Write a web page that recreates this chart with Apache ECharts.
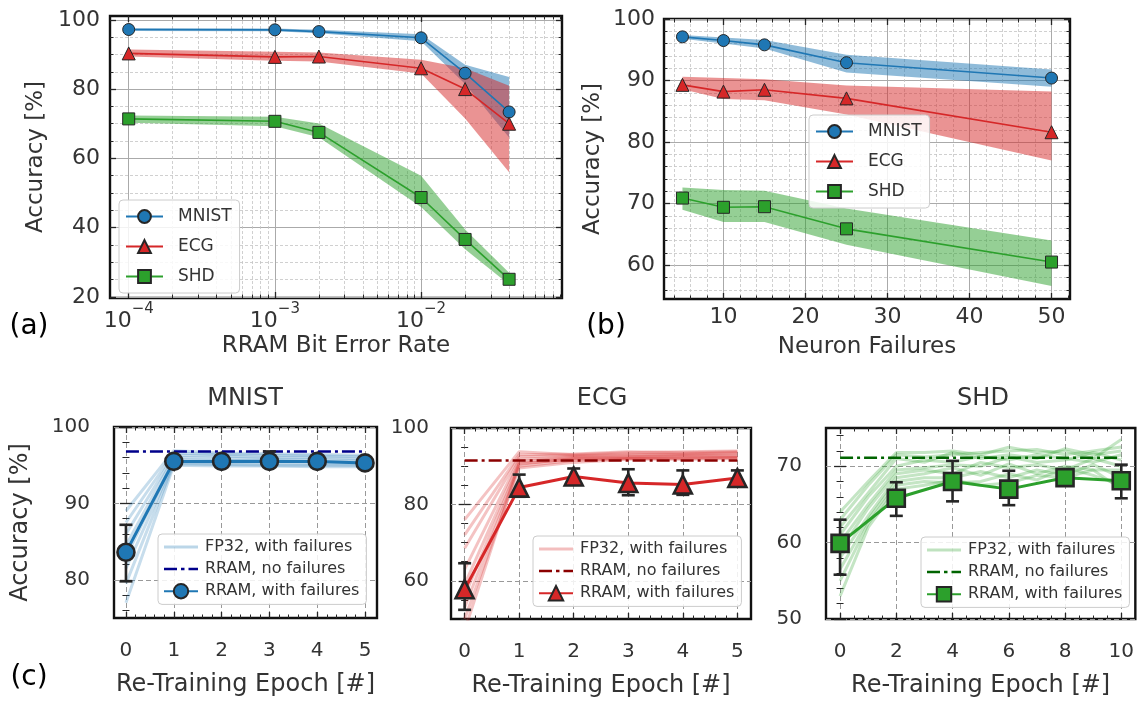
<!DOCTYPE html>
<html><head><meta charset="utf-8">
<script src="https://cdn.jsdelivr.net/npm/echarts@6/dist/echarts.min.js"></script>
<style>html,body{margin:0;padding:0;background:#fff}#c{width:1137px;height:702px}</style>
</head><body><div id="c"></div>
<script>
// ---------- DATA ----------
// (a) RRAM bit error rate
const berX = [1e-4, 1e-3, 2e-3, 1e-2, 2e-2, 4e-2];
const aMnist   = [97.2, 97.1, 96.6, 94.8, 84.6, 73.4];
const aMnistLo = [96.8, 96.7, 96.1, 93.8, 81.5, 66.0];
const aMnistHi = [97.6, 97.5, 97.1, 95.8, 87.0, 83.5];
const aEcg   = [90.3, 89.3, 89.4, 86.0, 80.0, 70.0];
const aEcgLo = [89.4, 88.2, 88.0, 84.5, 71.5, 56.0];
const aEcgHi = [91.4, 90.8, 90.6, 88.5, 86.0, 81.0];
const aShd   = [71.4, 70.7, 67.5, 48.7, 36.6, 25.1];
const aShdLo = [70.3, 69.3, 66.1, 46.0, 33.8, 23.6];
const aShdHi = [72.4, 72.0, 70.1, 55.0, 39.5, 27.0];
// (b) neuron failures
const nfX = [5, 10, 15, 25, 50];
const bMnist   = [97.1, 96.5, 95.8, 92.9, 90.4];
const bMnistLo = [96.8, 96.0, 95.2, 91.3, 89.0];
const bMnistHi = [97.4, 97.0, 96.6, 94.2, 91.8];
const bEcg   = [89.3, 88.2, 88.5, 87.1, 81.6];
const bEcgLo = [88.6, 87.0, 86.8, 84.5, 77.0];
const bEcgHi = [90.6, 90.4, 90.2, 89.2, 88.2];
const bShd   = [70.9, 69.4, 69.5, 65.9, 60.5];
const bShdLo = [69.0, 67.0, 67.0, 63.3, 56.6];
const bShdHi = [72.6, 72.2, 72.1, 69.2, 64.0];
// (c) re-training
const epochs5  = [0, 1, 2, 3, 4, 5];
const epochs10 = [0, 2, 4, 6, 8, 10];
const epochsAll10 = [0, 1, 2, 3, 4, 5, 6, 7, 8, 9, 10];
const cMnist   = [83.6, 95.5, 95.5, 95.5, 95.5, 95.3];
const cMnistLo = [79.8, 95.1, 95.1, 94.9, 94.9, 94.8];
const cMnistHi = [87.2, 95.9, 95.9, 96.8, 96.0, 95.8];
const mnistNoFail = 96.8;
const mnistFp32 = [
  [89.0, 96.9, 96.6, 96.5, 96.4, 96.3],
  [87.5, 96.6, 96.4, 96.3, 96.2, 96.1],
  [86.0, 96.3, 96.2, 96.0, 96.0, 95.8],
  [84.5, 96.0, 95.9, 95.8, 95.7, 95.6],
  [83.0, 95.7, 95.6, 95.6, 95.5, 95.4],
  [81.5, 95.4, 95.3, 95.3, 95.2, 95.2],
  [79.5, 95.2, 95.1, 95.0, 95.0, 95.0],
  [77.0, 95.0, 94.9, 94.9, 94.8, 94.8]
];
const cEcg   = [57.8, 84.4, 87.3, 85.6, 85.2, 86.9];
const cEcgLo = [52.4, 82.0, 85.5, 82.4, 82.5, 85.0];
const cEcgHi = [64.6, 87.8, 89.4, 89.2, 88.9, 88.9];
const ecgNoFail = 91.5;
const ecgFp32 = [
  [76.0, 93.8, 93.0, 93.5, 93.8, 94.0],
  [72.0, 93.0, 93.2, 93.8, 93.5, 93.8],
  [68.5, 92.5, 92.8, 93.0, 93.2, 93.5],
  [63.0, 91.8, 92.5, 92.8, 93.0, 93.2],
  [59.0, 91.2, 92.3, 92.5, 92.8, 92.8],
  [56.0, 90.5, 92.0, 92.2, 92.5, 92.5],
  [53.0, 90.0, 91.5, 92.0, 92.2, 92.3],
  [50.0, 89.5, 91.0, 91.8, 91.8, 92.0],
  [47.0, 90.8, 91.8, 92.0, 92.0, 92.2]
];
const cShd   = [59.9, 65.8, 68.0, 67.0, 68.5, 68.1];
const cShdLo = [55.8, 63.5, 65.4, 64.9, 67.6, 65.8];
const cShdHi = [63.0, 67.9, 70.7, 69.4, 69.6, 70.2];
const shdNoFail = 71.1;
const shdFp32 = [
  [64.0, 68.0, 71.8, 71.8, 72.0, 71.5, 72.5, 71.8, 72.0, 71.0, 73.5],
  [63.0, 67.5, 71.5, 71.2, 71.5, 71.8, 72.0, 72.2, 71.5, 72.0, 72.5],
  [62.0, 66.5, 71.0, 70.5, 71.8, 71.0, 71.5, 71.0, 72.3, 71.5, 72.0],
  [61.0, 66.0, 70.0, 70.8, 70.5, 71.3, 70.8, 71.5, 71.0, 70.5, 71.5],
  [60.0, 65.0, 69.5, 69.8, 70.2, 70.0, 71.2, 70.5, 70.8, 71.8, 70.8],
  [59.0, 64.5, 69.0, 69.5, 69.0, 70.5, 69.8, 70.2, 69.5, 71.0, 70.0],
  [58.0, 63.5, 68.5, 69.0, 69.8, 68.8, 70.3, 69.0, 70.0, 69.5, 69.5],
  [56.5, 63.0, 68.0, 68.5, 68.5, 69.3, 68.5, 69.5, 68.8, 70.2, 68.5],
  [55.0, 62.5, 67.5, 68.0, 67.8, 68.0, 69.0, 68.2, 69.8, 68.8, 67.5],
  [53.0, 62.0, 67.0, 67.5, 68.2, 67.5, 67.8, 68.8, 68.5, 69.5, 67.0]
];
// tick values
const aXMajor = [1e-4, 1e-3, 1e-2];
const aXMinor = [2e-4,3e-4,4e-4,5e-4,6e-4,7e-4,8e-4,9e-4,2e-3,3e-3,4e-3,5e-3,6e-3,7e-3,8e-3,9e-3,2e-2,3e-2,4e-2,5e-2,6e-2,7e-2,8e-2,9e-2];
const aYMajor = [20, 40, 60, 80, 100];
const aYMinor = [25,30,35,45,50,55,65,70,75,85,90,95];
const bXMajor = [10, 20, 30, 40, 50];
const bXMinor = [4,6,8,12,14,16,18,22,24,26,28,32,34,36,38,42,44,46,48,52];
const bYMajor = [60, 70, 80, 90, 100];
const bYMinor = [56,58,62,64,66,68,72,74,76,78,82,84,86,88,92,94,96,98];
const c5XMajor = [0, 1, 2, 3, 4, 5];
const c5XMinor = [0.2,0.4,0.6,0.8,1.2,1.4,1.6,1.8,2.2,2.4,2.6,2.8,3.2,3.4,3.6,3.8,4.2,4.4,4.6,4.8];
const c10XMajor = [0, 2, 4, 6, 8, 10];
const c10XMinor = [0.5,1,1.5,2.5,3,3.5,4.5,5,5.5,6.5,7,7.5,8.5,9,9.5];
const cMYMajor = [80, 90, 100];
const cMYMinor = [76,78,82,84,86,88,92,94,96,98];
const cEYMajor = [60, 80, 100];
const cEYMinor = [50,55,65,70,75,85,90,95];
const cSYMajor = [50, 60, 70];
const cSYMinor = [52,54,56,58,62,64,66,68,72,74];

// ---------- STYLE ----------
const FONT = 'DejaVu Sans';
const TXT = '#333333';
const EDGE = '#262626';
const BLUE = '#1f77b4', RED = '#d62728', GREEN = '#2ca02c';
const ICON_LINE = 'path://M0,0h34v3h-34z';
const ICON_DASHDOT = 'path://M0,0h13v2.6h-13zM17,0h3.5v2.6h-3.5zM24.5,0h9.5v2.6h-9.5z';

const grids = [], xAxes = [], yAxes = [], series = [], legends = [], graphics = [];

function addPanel(p) {
  const gi = grids.length;
  grids.push({left: p.box[0], top: p.box[1], width: p.box[2], height: p.box[3], show: true,
    borderColor: '#111', borderWidth: 2.4, backgroundColor: 'rgba(0,0,0,0)'});
  const xi = xAxes.length, yi = yAxes.length;
  const tMaj = () => ({show: true, inside: true, length: 6, lineStyle: {color: EDGE, width: 1.3}});
  const tMin = () => ({show: true, inside: true, length: 3.5, lineStyle: {color: EDGE, width: 1}});
  const xb = () => { const o = {gridIndex: gi, type: p.xType, min: p.xRange[0], max: p.xRange[1], axisLine: {show: false}}; if (p.xType === 'log') o.logBase = 10; return o; };
  const yb = () => ({gridIndex: gi, type: 'value', min: p.yRange[0], max: p.yRange[1], axisLine: {show: false}});
  xAxes.push(Object.assign(xb(), {position: 'bottom',
    axisTick: Object.assign(tMaj(), {customValues: p.xMajor}),
    axisLabel: {show: true, customValues: p.xMajor, margin: p.xMargin, fontSize: p.fs, color: TXT, fontFamily: FONT, formatter: p.xFmt, rich: p.xRich},
    splitLine: {show: true, lineStyle: p.majorGrid},
    name: p.xName, nameLocation: 'middle', nameGap: p.xNameGap,
    nameTextStyle: {fontSize: p.nameFs, color: TXT, fontFamily: FONT}}));
  xAxes.push(Object.assign(xb(), {position: 'bottom', axisTick: Object.assign(tMin(), {customValues: p.xMinor}), axisLabel: {show: false},
    splitLine: {show: !!p.minorGrid, lineStyle: p.minorGrid}}));
  xAxes.push(Object.assign(xb(), {position: 'top', axisTick: Object.assign(tMaj(), {customValues: p.xMajor}), axisLabel: {show: false}, splitLine: {show: false}}));
  xAxes.push(Object.assign(xb(), {position: 'top', axisTick: Object.assign(tMin(), {customValues: p.xMinor}), axisLabel: {show: false}, splitLine: {show: false}}));

  yAxes.push(Object.assign(yb(), {position: 'left',
    axisTick: Object.assign(tMaj(), {customValues: p.yMajor}),
    axisLabel: {show: true, customValues: p.yMajor, margin: p.yMargin, fontSize: p.fs, color: TXT, fontFamily: FONT},
    splitLine: {show: true, lineStyle: p.majorGrid},
    name: p.yName || '', nameLocation: 'middle', nameGap: p.yNameGap,
    nameTextStyle: {fontSize: p.nameFs, color: TXT, fontFamily: FONT}}));
  yAxes.push(Object.assign(yb(), {position: 'left', axisTick: Object.assign(tMin(), {customValues: p.yMinor}), axisLabel: {show: false},
    splitLine: {show: !!p.minorGrid, lineStyle: p.minorGrid}}));
  yAxes.push(Object.assign(yb(), {position: 'right', axisTick: Object.assign(tMaj(), {customValues: p.yMajor}), axisLabel: {show: false}, splitLine: {show: false}}));
  yAxes.push(Object.assign(yb(), {position: 'right', axisTick: Object.assign(tMin(), {customValues: p.yMinor}), axisLabel: {show: false}, splitLine: {show: false}}));
  return {xi, yi};
}

function band(ax, xs, lo, hi, color) {
  return {type: 'custom', xAxisIndex: ax.xi, yAxisIndex: ax.yi, z: 1, silent: true, clip: true,
    data: xs.map((x, i) => [x, lo[i], hi[i]]),
    encode: {x: 0, y: [1, 2]},
    renderItem: function (params, api) {
      if (params.dataIndex !== 0) return null;
      const pts = [];
      for (let i = 0; i < xs.length; i++) pts.push(api.coord([xs[i], hi[i]]));
      for (let i = xs.length - 1; i >= 0; i--) pts.push(api.coord([xs[i], lo[i]]));
      return {type: 'polygon', shape: {points: pts}, style: {fill: color, opacity: 0.5}};
    }};
}
function markerLine(ax, name, xs, ys, color, symbol, size, lw, bw, z) {
  return {type: 'line', name: name, xAxisIndex: ax.xi, yAxisIndex: ax.yi, z: z || 3,
    data: xs.map((x, i) => [x, ys[i]]), symbol: symbol, symbolSize: size, showSymbol: true,
    itemStyle: {color: color, borderColor: EDGE, borderWidth: bw, opacity: 1},
    lineStyle: {color: color, width: lw}, emphasis: {disabled: true}};
}
function errBars(ax, xs, lo, hi) {
  return {type: 'custom', xAxisIndex: ax.xi, yAxisIndex: ax.yi, z: 4, silent: true, clip: true,
    data: xs.map((x, i) => [x, lo[i], hi[i]]), encode: {x: 0, y: [1, 2]},
    renderItem: function (params, api) {
      const x = api.value(0);
      const a = api.coord([x, api.value(1)]), b = api.coord([x, api.value(2)]);
      const w = 6.5, st = {stroke: EDGE, lineWidth: 2.6};
      return {type: 'group', children: [
        {type: 'line', shape: {x1: a[0], y1: a[1], x2: b[0], y2: b[1]}, style: st},
        {type: 'line', shape: {x1: a[0] - w, y1: a[1], x2: a[0] + w, y2: a[1]}, style: st},
        {type: 'line', shape: {x1: b[0] - w, y1: b[1], x2: b[0] + w, y2: b[1]}, style: st}]};
    }};
}
function fp32Lines(ax, name, xs, rows, color, op) {
  rows.forEach(r => series.push({type: 'line', name: name, xAxisIndex: ax.xi, yAxisIndex: ax.yi, z: 2,
    data: xs.map((x, i) => [x, r[i]]), symbol: 'none', showSymbol: false, clip: true,
    lineStyle: {color: color, width: 3, opacity: op}, itemStyle: {color: color, opacity: op}, emphasis: {disabled: true}}));
}
function noFailLine(ax, name, xs, v, color) {
  series.push({type: 'line', name: name, xAxisIndex: ax.xi, yAxisIndex: ax.yi, z: 3,
    data: [[xs[0], v], [xs[xs.length - 1], v]], symbol: 'none', showSymbol: false,
    lineStyle: {color: color, width: 2.5, type: [13, 4, 3, 4]}, itemStyle: {color: color}, emphasis: {disabled: true}});
}
function legendBox(left, top, items, o) {
  legends.push({left: left, top: top, orient: 'vertical', data: items, selectedMode: false,
    formatter: n => n.split('|')[1], symbolKeepAspect: true,
    itemWidth: o.iw, itemHeight: o.ih, itemGap: o.gap, padding: o.pad,
    backgroundColor: 'rgba(255,255,255,0.85)', borderColor: '#cccccc', borderWidth: 1, borderRadius: 4,
    textStyle: {fontSize: o.fs, color: TXT, fontFamily: FONT, padding: [0, 0, 0, o.tp]}});
}
function cLegend(left, top, tag, lightColor, darkColor) {
  legendBox(left, top, [
    {name: tag + '|FP32, with failures', icon: ICON_LINE, itemStyle: {color: lightColor, opacity: 1, borderWidth: 0}},
    {name: tag + '|RRAM, no failures', icon: ICON_DASHDOT, itemStyle: {color: darkColor, opacity: 1, borderWidth: 0}},
    {name: tag + '|RRAM, with failures'}
  ], {iw: 34, ih: 18, gap: 6, pad: [5, 7, 5, 5], fs: 16, tp: 2});
}

const majorGridAB = {color: '#aaaaaa', width: 1, type: 'solid'};
const minorGridAB = {color: '#c4c4c4', width: 0.8, type: [3, 2]};
const gridC = {color: '#999999', width: 1, type: [5, 3]};

// ---------- (a) ----------
const A = addPanel({box: [110, 16, 452, 282], xType: 'log', xRange: [7.45e-5, 0.092], yRange: [19.7, 101.1],
  xMajor: aXMajor, xMinor: aXMinor, yMajor: aYMajor, yMinor: aYMinor, fs: 22, nameFs: 23,
  xMargin: 4, yMargin: 10, xNameGap: 37, yNameGap: 62,
  xFmt: v => '{b|10}{s|\u2212' + (-Math.round(Math.log10(v))) + '}',
  xRich: {b: {fontSize: 22, color: TXT, fontFamily: FONT, lineHeight: 30, verticalAlign: 'bottom'},
          s: {fontSize: 15, color: TXT, fontFamily: FONT, lineHeight: 16, verticalAlign: 'top'}},
  xName: 'RRAM Bit Error Rate', yName: 'Accuracy [%]', majorGrid: majorGridAB, minorGrid: minorGridAB});
series.push(band(A, berX, aMnistLo, aMnistHi, BLUE));
series.push(band(A, berX, aEcgLo, aEcgHi, RED));
series.push(band(A, berX, aShdLo, aShdHi, GREEN));
series.push(markerLine(A, 'a|MNIST', berX, aMnist, BLUE, 'circle', 12, 1.6, 1));
series.push(markerLine(A, 'a|ECG', berX, aEcg, RED, 'triangle', 13, 1.6, 1));
series.push(markerLine(A, 'a|SHD', berX, aShd, GREEN, 'rect', 12, 1.6, 1));
legendBox(119, 200, ['a|MNIST', 'a|ECG', 'a|SHD'], {iw: 37, ih: 16, gap: 13, pad: [8, 8, 8, 6], fs: 17, tp: 10});

// ---------- (b) ----------
const B = addPanel({box: [664, 19, 406, 280], xType: 'value', xRange: [2.75, 52.25], yRange: [54.5, 100],
  xMajor: bXMajor, xMinor: bXMinor, yMajor: bYMajor, yMinor: bYMinor, fs: 22, nameFs: 23,
  xMargin: 7, yMargin: 9, xNameGap: 37, yNameGap: 59,
  xName: 'Neuron Failures', yName: 'Accuracy [%]', majorGrid: majorGridAB, minorGrid: minorGridAB});
series.push(band(B, nfX, bMnistLo, bMnistHi, BLUE));
series.push(band(B, nfX, bEcgLo, bEcgHi, RED));
series.push(band(B, nfX, bShdLo, bShdHi, GREEN));
series.push(markerLine(B, 'b|MNIST', nfX, bMnist, BLUE, 'circle', 12, 1.6, 1));
series.push(markerLine(B, 'b|ECG', nfX, bEcg, RED, 'triangle', 13, 1.6, 1));
series.push(markerLine(B, 'b|SHD', nfX, bShd, GREEN, 'rect', 12, 1.6, 1));
legendBox(809, 115, ['b|MNIST', 'b|ECG', 'b|SHD'], {iw: 37, ih: 16, gap: 13, pad: [8, 8, 8, 6], fs: 17, tp: 10});

// ---------- (c) ----------
const CM = addPanel({box: [114, 427, 263, 191], xType: 'value', xRange: [-0.25, 5.25], yRange: [75, 100],
  xMajor: c5XMajor, xMinor: c5XMinor, yMajor: cMYMajor, yMinor: cMYMinor, fs: 20, nameFs: 24,
  xMargin: 23, yMargin: 24, xNameGap: 55, yNameGap: 81,
  xName: 'Re-Training Epoch [#]', yName: 'Accuracy [%]', majorGrid: gridC});
fp32Lines(CM, 'm|FP32, with failures', epochs5, mnistFp32, BLUE, 0.25);
noFailLine(CM, 'm|RRAM, no failures', epochs5, mnistNoFail, '#00008b');
series.push(errBars(CM, epochs5, cMnistLo, cMnistHi));
series.push(markerLine(CM, 'm|RRAM, with failures', epochs5, cMnist, BLUE, 'circle', 17, 3, 2.6, 5));
cLegend(158, 534, 'm', 'rgba(31,119,180,0.3)', '#00008b');

const CE = addPanel({box: [451, 428, 300, 191], xType: 'value', xRange: [-0.25, 5.25], yRange: [50, 100],
  xMajor: c5XMajor, xMinor: c5XMinor, yMajor: cEYMajor, yMinor: cEYMinor, fs: 20, nameFs: 24,
  xMargin: 23, yMargin: 22, xNameGap: 55, yNameGap: 60,
  xName: 'Re-Training Epoch [#]', majorGrid: gridC});
fp32Lines(CE, 'e|FP32, with failures', epochs5, ecgFp32, RED, 0.28);
noFailLine(CE, 'e|RRAM, no failures', epochs5, ecgNoFail, '#8b0000');
series.push(errBars(CE, epochs5, cEcgLo, cEcgHi));
series.push(markerLine(CE, 'e|RRAM, with failures', epochs5, cEcg, RED, 'triangle', 18, 3, 2.6, 5));
cLegend(533, 536, 'e', 'rgba(214,39,40,0.3)', '#8b0000');

const CS = addPanel({box: [826, 428, 314, 191], xType: 'value', xRange: [-0.5, 10.5], yRange: [50, 75],
  xMajor: c10XMajor, xMinor: c10XMinor, yMajor: cSYMajor, yMinor: cSYMinor, fs: 20, nameFs: 24,
  xMargin: 23, yMargin: 24, xNameGap: 55, yNameGap: 60,
  xName: 'Re-Training Epoch [#]', majorGrid: gridC});
fp32Lines(CS, 's|FP32, with failures', epochsAll10, shdFp32, GREEN, 0.28);
noFailLine(CS, 's|RRAM, no failures', epochs10, shdNoFail, '#006400');
series.push(errBars(CS, epochs10, cShdLo, cShdHi));
series.push(markerLine(CS, 's|RRAM, with failures', epochs10, cShd, GREEN, 'rect', 17, 3, 2.6, 5));
cLegend(921, 537, 's', 'rgba(44,160,44,0.3)', '#006400');

// titles & panel labels
function txt(x, y, s, fs, color) {
  graphics.push({type: 'text', x: x, y: y, z: 10, silent: true,
    style: {text: s, fontSize: fs, fontFamily: FONT, fill: color, align: 'center', verticalAlign: 'middle'}});
}
txt(245, 399, 'MNIST', 24, TXT);
txt(602, 399, 'ECG', 24, TXT);
txt(983, 399, 'SHD', 24, TXT);
txt(29, 327, '(a)', 28, '#000');
txt(606, 327, '(b)', 28, '#000');
txt(29, 678, '(c)', 28, '#000');

const chart = echarts.init(document.getElementById('c'), null, {renderer: 'canvas'});
chart.setOption({
  animation: false,
  backgroundColor: '#ffffff',
  textStyle: {fontFamily: FONT},
  grid: grids, xAxis: xAxes, yAxis: yAxes, series: series, legend: legends, graphic: graphics
});
</script></body></html>
